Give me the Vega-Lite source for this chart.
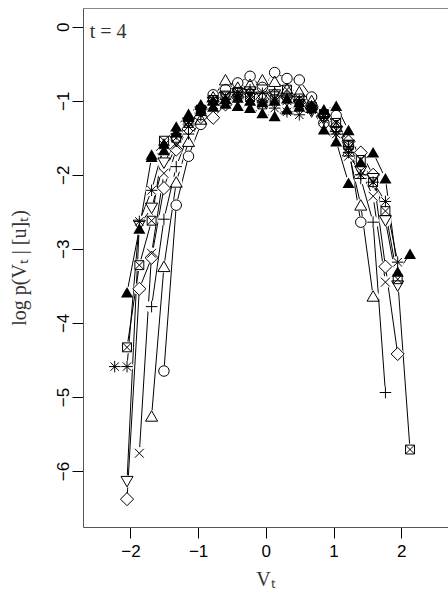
{
  "$schema": "https://vega.github.io/schema/vega-lite/v6.json",
  "autosize": {"type": "none"},
  "padding": {"left": 83, "top": 8, "right": 0, "bottom": 68},
  "width": 365,
  "height": 519,
  "background": "white",
  "config": {"view": {"stroke": null}, "axis": {"grid": false}},
  "data": {"values": [
    {"s":"c","m":"c","x":-1.505,"y":-4.65},{"s":"c","m":"c","x":-1.323,"y":-2.41},{"s":"c","m":"c","x":-1.142,"y":-1.75},{"s":"c","m":"c","x":-0.960,"y":-1.32},{"s":"c","m":"c","x":-0.778,"y":-0.92},{"s":"c","m":"c","x":-0.596,"y":-0.85},{"s":"c","m":"c","x":-0.415,"y":-0.76},{"s":"c","m":"c","x":-0.233,"y":-0.67},{"s":"c","m":"c","x":-0.051,"y":-0.82},{"s":"c","m":"c","x":0.130,"y":-0.62},{"s":"c","m":"c","x":0.312,"y":-0.70},{"s":"c","m":"c","x":0.494,"y":-0.72},{"s":"c","m":"c","x":0.676,"y":-0.95},{"s":"c","m":"c","x":0.857,"y":-1.30},{"s":"c","m":"c","x":1.039,"y":-1.20},{"s":"c","m":"c","x":1.221,"y":-1.62},{"s":"c","m":"c","x":1.402,"y":-2.64},
    {"s":"t","m":"t","x":-1.687,"y":-5.26},{"s":"t","m":"t","x":-1.505,"y":-3.24},{"s":"t","m":"t","x":-1.323,"y":-2.10},{"s":"t","m":"t","x":-1.142,"y":-1.55},{"s":"t","m":"t","x":-0.960,"y":-1.25},{"s":"t","m":"t","x":-0.778,"y":-0.95},{"s":"t","m":"t","x":-0.596,"y":-0.72},{"s":"t","m":"t","x":-0.415,"y":-0.82},{"s":"t","m":"t","x":-0.233,"y":-0.78},{"s":"t","m":"t","x":-0.051,"y":-0.72},{"s":"t","m":"t","x":0.130,"y":-0.74},{"s":"t","m":"t","x":0.312,"y":-0.84},{"s":"t","m":"t","x":0.494,"y":-0.88},{"s":"t","m":"t","x":0.676,"y":-1.00},{"s":"t","m":"t","x":0.857,"y":-1.15},{"s":"t","m":"t","x":1.039,"y":-1.35},{"s":"t","m":"t","x":1.221,"y":-1.68},{"s":"t","m":"t","x":1.402,"y":-2.41},{"s":"t","m":"t","x":1.584,"y":-3.64},
    {"s":"p","m":"p","x":-1.687,"y":-3.78},{"s":"p","m":"p","x":-1.505,"y":-2.60},{"s":"p","m":"p","x":-1.323,"y":-1.89},{"s":"p","m":"p","x":-1.142,"y":-1.45},{"s":"p","m":"p","x":-0.960,"y":-1.20},{"s":"p","m":"p","x":-0.778,"y":-1.00},{"s":"p","m":"p","x":-0.596,"y":-0.98},{"s":"p","m":"p","x":-0.415,"y":-0.95},{"s":"p","m":"p","x":-0.233,"y":-0.85},{"s":"p","m":"p","x":-0.051,"y":-0.90},{"s":"p","m":"p","x":0.130,"y":-0.88},{"s":"p","m":"p","x":0.312,"y":-0.95},{"s":"p","m":"p","x":0.494,"y":-1.00},{"s":"p","m":"p","x":0.676,"y":-1.12},{"s":"p","m":"p","x":0.857,"y":-1.22},{"s":"p","m":"p","x":1.039,"y":-1.35},{"s":"p","m":"p","x":1.221,"y":-1.62},{"s":"p","m":"p","x":1.402,"y":-2.05},{"s":"p","m":"p","x":1.584,"y":-2.64},{"s":"p","m":"p","x":1.766,"y":-4.94},
    {"s":"x","m":"x","x":-1.868,"y":-5.76},{"s":"x","m":"x","x":-1.687,"y":-3.06},{"s":"x","m":"x","x":-1.505,"y":-1.98},{"s":"x","m":"x","x":-1.323,"y":-1.60},{"s":"x","m":"x","x":-1.142,"y":-1.35},{"s":"x","m":"x","x":-0.960,"y":-1.15},{"s":"x","m":"x","x":-0.778,"y":-1.05},{"s":"x","m":"x","x":-0.596,"y":-0.95},{"s":"x","m":"x","x":-0.415,"y":-0.90},{"s":"x","m":"x","x":-0.233,"y":-0.92},{"s":"x","m":"x","x":-0.051,"y":-0.88},{"s":"x","m":"x","x":0.130,"y":-0.95},{"s":"x","m":"x","x":0.312,"y":-1.00},{"s":"x","m":"x","x":0.494,"y":-1.05},{"s":"x","m":"x","x":0.676,"y":-1.10},{"s":"x","m":"x","x":0.857,"y":-1.25},{"s":"x","m":"x","x":1.039,"y":-1.40},{"s":"x","m":"x","x":1.221,"y":-1.75},{"s":"x","m":"x","x":1.402,"y":-1.95},{"s":"x","m":"x","x":1.584,"y":-2.29},{"s":"x","m":"x","x":1.766,"y":-3.45},
    {"s":"d","m":"d","x":-2.050,"y":-6.38},{"s":"d","m":"d","x":-1.868,"y":-3.54},{"s":"d","m":"d","x":-1.687,"y":-3.12},{"s":"d","m":"d","x":-1.505,"y":-2.18},{"s":"d","m":"d","x":-1.323,"y":-1.66},{"s":"d","m":"d","x":-1.142,"y":-1.38},{"s":"d","m":"d","x":-0.960,"y":-1.22},{"s":"d","m":"d","x":-0.778,"y":-1.23},{"s":"d","m":"d","x":-0.596,"y":-1.05},{"s":"d","m":"d","x":-0.415,"y":-0.95},{"s":"d","m":"d","x":-0.233,"y":-0.90},{"s":"d","m":"d","x":-0.051,"y":-0.98},{"s":"d","m":"d","x":0.130,"y":-0.92},{"s":"d","m":"d","x":0.312,"y":-0.95},{"s":"d","m":"d","x":0.494,"y":-1.02},{"s":"d","m":"d","x":0.676,"y":-1.10},{"s":"d","m":"d","x":0.857,"y":-1.20},{"s":"d","m":"d","x":1.039,"y":-1.35},{"s":"d","m":"d","x":1.221,"y":-1.55},{"s":"d","m":"d","x":1.402,"y":-1.70},{"s":"d","m":"d","x":1.584,"y":-2.00},{"s":"d","m":"d","x":1.766,"y":-3.24},{"s":"d","m":"d","x":1.947,"y":-4.42},
    {"s":"v","m":"v","x":-2.050,"y":-6.14},{"s":"v","m":"v","x":-1.868,"y":-2.68},{"s":"v","m":"v","x":-1.687,"y":-2.45},{"s":"v","m":"v","x":-1.505,"y":-1.84},{"s":"v","m":"v","x":-1.323,"y":-1.55},{"s":"v","m":"v","x":-1.142,"y":-1.30},{"s":"v","m":"v","x":-0.960,"y":-1.15},{"s":"v","m":"v","x":-0.778,"y":-1.02},{"s":"v","m":"v","x":-0.596,"y":-0.95},{"s":"v","m":"v","x":-0.415,"y":-0.90},{"s":"v","m":"v","x":-0.233,"y":-0.88},{"s":"v","m":"v","x":-0.051,"y":-0.95},{"s":"v","m":"v","x":0.130,"y":-0.92},{"s":"v","m":"v","x":0.312,"y":-1.00},{"s":"v","m":"v","x":0.494,"y":-1.05},{"s":"v","m":"v","x":0.676,"y":-1.15},{"s":"v","m":"v","x":0.857,"y":-1.25},{"s":"v","m":"v","x":1.039,"y":-1.42},{"s":"v","m":"v","x":1.221,"y":-1.60},{"s":"v","m":"v","x":1.402,"y":-1.95},{"s":"v","m":"v","x":1.584,"y":-2.05},{"s":"v","m":"v","x":1.766,"y":-2.62},{"s":"v","m":"v","x":1.947,"y":-3.50},
    {"s":"b","m":"b","x":-2.050,"y":-4.33},{"s":"b","m":"b","x":-1.868,"y":-3.22},{"s":"b","m":"b","x":-1.687,"y":-2.62},{"s":"b","m":"b","x":-1.505,"y":-1.54},{"s":"b","m":"b","x":-1.323,"y":-1.50},{"s":"b","m":"b","x":-1.142,"y":-1.30},{"s":"b","m":"b","x":-0.960,"y":-1.12},{"s":"b","m":"b","x":-0.778,"y":-0.99},{"s":"b","m":"b","x":-0.596,"y":-0.93},{"s":"b","m":"b","x":-0.415,"y":-0.88},{"s":"b","m":"b","x":-0.233,"y":-0.95},{"s":"b","m":"b","x":-0.051,"y":-1.05},{"s":"b","m":"b","x":0.130,"y":-0.98},{"s":"b","m":"b","x":0.312,"y":-0.85},{"s":"b","m":"b","x":0.494,"y":-0.97},{"s":"b","m":"b","x":0.676,"y":-1.08},{"s":"b","m":"b","x":0.857,"y":-1.18},{"s":"b","m":"b","x":1.039,"y":-1.30},{"s":"b","m":"b","x":1.221,"y":-1.60},{"s":"b","m":"b","x":1.402,"y":-1.80},{"s":"b","m":"b","x":1.584,"y":-2.10},{"s":"b","m":"b","x":1.766,"y":-2.49},{"s":"b","m":"b","x":1.947,"y":-3.41},{"s":"b","m":"b","x":2.129,"y":-5.71},
    {"s":"a","m":"a","x":-2.232,"y":-4.59},{"s":"a","m":"a","x":-2.050,"y":-4.59},{"s":"a","m":"a","x":-1.868,"y":-2.63},{"s":"a","m":"a","x":-1.687,"y":-2.21},{"s":"a","m":"a","x":-1.505,"y":-1.60},{"s":"a","m":"a","x":-1.323,"y":-1.45},{"s":"a","m":"a","x":-1.142,"y":-1.28},{"s":"a","m":"a","x":-0.960,"y":-1.12},{"s":"a","m":"a","x":-0.778,"y":-1.05},{"s":"a","m":"a","x":-0.596,"y":-0.98},{"s":"a","m":"a","x":-0.415,"y":-0.92},{"s":"a","m":"a","x":-0.233,"y":-0.90},{"s":"a","m":"a","x":-0.051,"y":-1.02},{"s":"a","m":"a","x":0.130,"y":-1.10},{"s":"a","m":"a","x":0.312,"y":-1.15},{"s":"a","m":"a","x":0.494,"y":-1.19},{"s":"a","m":"a","x":0.676,"y":-1.12},{"s":"a","m":"a","x":0.857,"y":-1.22},{"s":"a","m":"a","x":1.039,"y":-1.45},{"s":"a","m":"a","x":1.221,"y":-1.70},{"s":"a","m":"a","x":1.402,"y":-2.00},{"s":"a","m":"a","x":1.584,"y":-2.10},{"s":"a","m":"a","x":1.766,"y":-2.36},{"s":"a","m":"a","x":1.947,"y":-3.18},
    {"s":"fA","m":"f","x":-2.050,"y":-3.59},{"s":"fA","m":"f","x":-1.868,"y":-2.73},{"s":"fA","m":"f","x":-1.687,"y":-1.76},{"s":"fA","m":"f","x":-1.505,"y":-1.67},{"s":"fA","m":"f","x":-1.323,"y":-1.43},{"s":"fA","m":"f","x":-1.142,"y":-1.21},{"s":"fA","m":"f","x":-0.960,"y":-1.12},{"s":"fA","m":"f","x":-0.778,"y":-1.08},{"s":"fA","m":"f","x":-0.596,"y":-1.04},{"s":"fA","m":"f","x":-0.415,"y":-1.07},{"s":"fA","m":"f","x":-0.233,"y":-1.10},{"s":"fA","m":"f","x":-0.051,"y":-1.17},{"s":"fA","m":"f","x":0.130,"y":-1.21},{"s":"fA","m":"f","x":0.312,"y":-1.12},{"s":"fA","m":"f","x":0.494,"y":-1.08},{"s":"fA","m":"f","x":0.676,"y":-1.10},{"s":"fA","m":"f","x":0.857,"y":-1.39},{"s":"fA","m":"f","x":1.039,"y":-1.55},{"s":"fA","m":"f","x":1.221,"y":-2.11},
    {"s":"fB","m":"f","x":-1.687,"y":-1.73},{"s":"fB","m":"f","x":-1.505,"y":-1.58},{"s":"fB","m":"f","x":-1.323,"y":-1.35},{"s":"fB","m":"f","x":-1.142,"y":-1.18},{"s":"fB","m":"f","x":-0.960,"y":-1.05},{"s":"fB","m":"f","x":-0.778,"y":-1.00},{"s":"fB","m":"f","x":-0.596,"y":-0.98},{"s":"fB","m":"f","x":-0.415,"y":-0.96},{"s":"fB","m":"f","x":-0.233,"y":-1.00},{"s":"fB","m":"f","x":-0.051,"y":-1.02},{"s":"fB","m":"f","x":0.130,"y":-1.00},{"s":"fB","m":"f","x":0.312,"y":-0.97},{"s":"fB","m":"f","x":0.494,"y":-1.02},{"s":"fB","m":"f","x":0.676,"y":-1.06},{"s":"fB","m":"f","x":0.857,"y":-1.12},{"s":"fB","m":"f","x":1.039,"y":-1.07},{"s":"fB","m":"f","x":1.221,"y":-1.40},{"s":"fB","m":"f","x":1.402,"y":-1.83},{"s":"fB","m":"f","x":1.584,"y":-1.70},{"s":"fB","m":"f","x":1.766,"y":-2.05},{"s":"fB","m":"f","x":1.947,"y":-3.31},{"s":"fB","m":"f","x":2.129,"y":-3.07}
  ]},
  "resolve": {"axis": {"x": "independent"}},
  "layer": [
    {
      "mark": {"type": "line", "color": "black", "strokeWidth": 1},
      "encoding": {
        "x": {"field": "x", "type": "quantitative",
              "scale": {"domain": [-2.7, 2.69], "nice": false, "zero": false},
              "axis": {"orient": "bottom", "values": [-2, -1, 0, 1, 2], "format": "d", "tickSize": 11, "tickColor": "black", "domainColor": "#555", "labelFont": "Liberation Sans", "labelFontSize": 17, "labelColor": "black", "labelPadding": 5, "title": "Vₜ", "titleFont": "Liberation Serif", "titleFontSize": 20, "titleFontWeight": "normal", "titleColor": "#333", "titlePadding": 10}},
        "y": {"field": "y", "type": "quantitative",
              "scale": {"domain": [-6.756, 0.252], "nice": false, "zero": false},
              "axis": {"values": [0, -1, -2, -3, -4, -5, -6], "format": "d", "tickSize": 11, "tickColor": "black", "domainColor": "#555", "labelFont": "Liberation Sans", "labelFontSize": 17, "labelColor": "black", "labelAngle": -90, "labelAlign": "center", "labelBaseline": "alphabetic", "labelPadding": 4, "title": "log p(Vₜ | [u]ₜ)", "titleFont": "Liberation Serif", "titleFontSize": 20, "titleFontWeight": "normal", "titleColor": "#333", "titlePadding": 25}},
        "detail": {"field": "s"}
      }
    },
    {
      "mark": {"type": "point", "shape": "circle", "filled": true, "color": "white", "opacity": 1, "size": 150, "strokeWidth": 0},
      "encoding": {
        "x": {"field": "x", "type": "quantitative", "axis": {"orient": "top", "labels": false, "ticks": false, "title": null, "domainColor": "#888"}},
        "y": {"field": "y", "type": "quantitative"}
      }
    },
    {
      "transform": [{"filter": {"not": {"field": "m", "equal": "f"}}}],
      "mark": {"type": "point", "filled": false, "color": "black", "opacity": 1, "size": 110, "strokeWidth": 1},
      "encoding": {
        "x": {"field": "x", "type": "quantitative", "axis": null},
        "y": {"field": "y", "type": "quantitative"},
        "shape": {"field": "m", "type": "nominal", "legend": null,
          "scale": {"domain": ["c", "t", "p", "x", "d", "v", "b", "a"],
                    "range": ["circle", "M0,-1.05L1.15,0.95L-1.15,0.95Z", "M-1.1,0L1.1,0M0,-1.1L0,1.1", "M-0.85,-0.85L0.85,0.85M-0.85,0.85L0.85,-0.85", "M0,-1.25L1.25,0L0,1.25L-1.25,0Z", "M0,1.05L1.15,-0.95L-1.15,-0.95Z", "M-0.85,-0.85L0.85,-0.85L0.85,0.85L-0.85,0.85ZM-0.85,-0.85L0.85,0.85M-0.85,0.85L0.85,-0.85", "M-1.1,0L1.1,0M0,-1.1L0,1.1M-0.8,-0.8L0.8,0.8M-0.8,0.8L0.8,-0.8"]}}
      }
    },
    {
      "transform": [{"filter": {"field": "m", "equal": "f"}}],
      "mark": {"type": "point", "filled": true, "color": "black", "opacity": 1, "size": 110, "strokeWidth": 0, "shape": "M0,-1.05L1.15,0.95L-1.15,0.95Z"},
      "encoding": {
        "x": {"field": "x", "type": "quantitative", "axis": null},
        "y": {"field": "y", "type": "quantitative"}
      }
    },
    {
      "data": {"values": [{"label": "t = 4", "lx": -2.6, "ly": -0.15}]},
      "mark": {"type": "text", "font": "Liberation Serif", "fontSize": 20, "fontWeight": "normal", "align": "left", "baseline": "alphabetic", "color": "#333"},
      "encoding": {
        "text": {"field": "label"},
        "x": {"field": "lx", "type": "quantitative", "axis": null},
        "y": {"field": "ly", "type": "quantitative"}
      }
    }
  ]
}
